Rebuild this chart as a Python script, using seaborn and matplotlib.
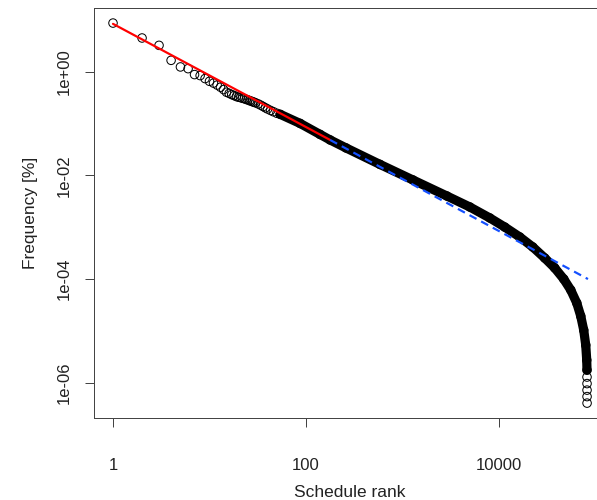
import matplotlib
matplotlib.use("Agg")
import matplotlib.pyplot as plt
import seaborn as sns
import pandas as pd

# ---- data ----
head_rank = [1, 2, 3, 4, 5, 6, 7, 8, 9, 10,
             11, 12, 13, 14, 15, 16, 17, 18, 19, 20,
             21, 22, 23, 24, 25, 26, 27, 28, 29, 30,
             32, 34, 36, 38, 40, 43, 46, 50]
head_freq = [8.64, 4.45, 3.21, 1.65, 1.23, 1.14, 0.876, 0.838, 0.733, 0.65,
             0.60, 0.55, 0.50, 0.45, 0.40, 0.38, 0.36, 0.345, 0.33, 0.32,
             0.315, 0.305, 0.30, 0.29, 0.285, 0.275, 0.27, 0.262, 0.256, 0.25,
             0.238, 0.225, 0.212, 0.20, 0.19, 0.178, 0.168, 0.157]

band_rank = [54, 87, 140, 178, 260, 585, 1285, 2890, 5000, 8050, 11510,
             16450, 22440, 29860, 37890, 46990, 55560, 64130, 70500, 75700,
             79430, 81330, 81850]
band_freq = [0.150, 0.100, 0.0614, 0.048, 0.0337, 0.0162, 0.00811, 0.00398,
             0.00244, 0.00150, 0.00100, 6.44e-4, 4.13e-4, 2.53e-4, 1.63e-4,
             9.95e-5, 6.11e-5, 3.43e-5, 1.92e-5, 1.03e-5, 5.30e-6, 2.72e-6,
             1.74e-6]

end_rank = [81880, 81910, 81940, 81970, 82000]
end_freq = [1.28e-6, 9.57e-7, 7.16e-7, 5.37e-7, 4.02e-7]

red_rank = [1, 178]
red_freq = [8.34, 0.048]
blue_rank = [178, 83750]
blue_freq = [0.048, 9.95e-5]

x_ticks = [1, 100, 10000]
x_tick_labels = ["1", "100", "10000"]
y_ticks = [1e0, 1e-2, 1e-4, 1e-6]
y_tick_labels = ["1e+00", "1e-02", "1e-04", "1e-06"]

# ---- figure ----
sns.set_style("white")
plt.rcParams["font.family"] = ["Liberation Sans", "DejaVu Sans"]

fig = plt.figure(figsize=(5.97, 5.00), dpi=100)
ax = fig.add_axes([94 / 597, 82 / 500, 512 / 597, 410 / 500])
ax.set_xscale("log")
ax.set_yscale("log")

pt = 72 / 100  # points per pixel

band_df = pd.DataFrame({"rank": band_rank, "freq": band_freq})
sns.lineplot(data=band_df, x="rank", y="freq", ax=ax, color="black",
             linewidth=9.2 * pt, estimator=None, sort=False,
             solid_capstyle="round", solid_joinstyle="round", zorder=2)

pts_df = pd.DataFrame({"rank": head_rank + band_rank + end_rank,
                       "freq": head_freq + band_freq + end_freq})
sns.scatterplot(data=pts_df, x="rank", y="freq", ax=ax, marker="o",
                s=(8.5 * pt) ** 2, facecolor="none", edgecolor="black",
                linewidth=1.0 * pt, zorder=3)

red_df = pd.DataFrame({"rank": red_rank, "freq": red_freq})
sns.lineplot(data=red_df, x="rank", y="freq", ax=ax, color="#FF0000",
             linewidth=2.2 * pt, estimator=None, sort=False, zorder=4)
blue_df = pd.DataFrame({"rank": blue_rank, "freq": blue_freq})
sns.lineplot(data=blue_df, x="rank", y="freq", ax=ax, color="#1450FF",
             linewidth=2.2 * pt, estimator=None, sort=False, zorder=4,
             dashes=False, linestyle=(0, (3.6, 2.4)))

ax.set_xlim(10 ** -0.197, 10 ** 5.11)
ax.set_ylim(10 ** -6.683, 10 ** 1.227)

ax.set_xticks(x_ticks)
ax.set_xticklabels(x_tick_labels)
ax.set_yticks(y_ticks)
ax.set_yticklabels(y_tick_labels, rotation=90, va="center")
ax.minorticks_off()
ax.tick_params(axis="both", which="major", length=9 * pt, width=1.0 * pt,
               color="#444444", labelsize=12, labelcolor="#222222",
               direction="out", bottom=True, left=True)
ax.tick_params(axis="x", pad=31 * pt)
ax.tick_params(axis="y", pad=13 * pt)

for s in ax.spines.values():
    s.set_color("#444444")
    s.set_linewidth(1.0 * pt)
    s.set_visible(True)

ax.set_xlabel("Schedule rank", fontsize=12.5, color="#222222", labelpad=8.5)
ax.set_ylabel("Frequency [%]", fontsize=12.5, color="#222222", labelpad=14)
ax.legend_ = None

fig.savefig("out.png", dpi=100)
